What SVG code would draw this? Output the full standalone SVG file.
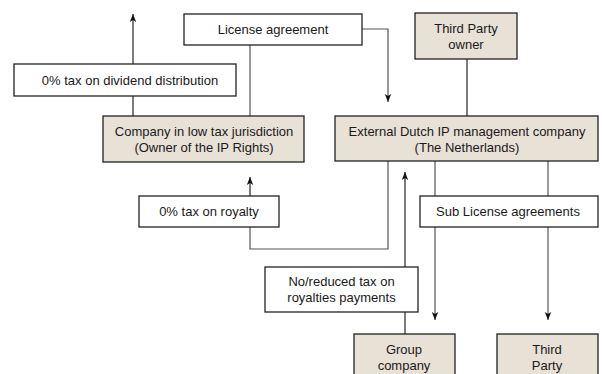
<svg xmlns="http://www.w3.org/2000/svg" width="602" height="374" viewBox="0 0 602 374">
<style>
.box{fill:#ffffff;stroke:#222;stroke-width:1.3}
.sh{fill:#e8e1d6;stroke:#222;stroke-width:1.3}
text{font-family:"Liberation Sans",Arial,sans-serif;font-size:13px;fill:#1a1a1a;text-anchor:middle}
.ln{fill:none;stroke:#111;stroke-width:1.1}
.lg{fill:none;stroke:#555;stroke-width:1.2}
</style>
<defs>
<marker id="ah" viewBox="0 0 10 10" refX="10" refY="5" markerWidth="8" markerHeight="8" orient="auto" markerUnits="userSpaceOnUse">
<path d="M0,1 L10,5 L0,9 L2.5,5 Z" fill="#111"/>
</marker>
</defs>
<rect width="602" height="374" fill="#ffffff"/>
<g id="connectors">
<path class="ln" d="M133,64 V14" marker-end="url(#ah)"/>
<path class="ln" d="M133,96 V116"/>
<path class="lg" d="M250,45 V116"/>
<path class="lg" d="M362,29 H388 V102" marker-end="url(#ah)"/>
<path class="ln" d="M467,59 V116"/>
<path class="ln" d="M250,196 V177" marker-end="url(#ah)"/>
<path class="lg" d="M250,227 V249 H388 V161"/>
<path class="ln" d="M405,267 V172" marker-end="url(#ah)"/>
<path class="ln" d="M405,312 V334"/>
<path class="lg" d="M435,161 V196"/>
<path class="lg" d="M548,161 V196"/>
<path class="lg" d="M435,227 V320" marker-end="url(#ah)"/>
<path class="lg" d="M548,227 V320" marker-end="url(#ah)"/>
</g>
<g id="license">
<rect class="box" x="184" y="14" width="178" height="31"/>
<text x="273" y="34">License agreement</text>
</g>
<g id="thirdPartyOwner">
<rect class="sh" x="415" y="13" width="102" height="46"/>
<text x="466" y="33">Third Party</text>
<text x="466" y="49">owner</text>
</g>
<g id="dividend">
<rect class="box" x="14" y="64" width="222" height="32"/>
<text x="130" y="85">0% tax on dividend distribution</text>
</g>
<g id="lowTax">
<rect class="sh" x="103" y="116" width="201" height="46"/>
<text x="204" y="136">Company in low tax jurisdiction</text>
<text x="204" y="152">(Owner of the IP Rights)</text>
</g>
<g id="dutch">
<rect class="sh" x="335" y="116" width="263" height="45"/>
<text x="467" y="136">External Dutch IP management company</text>
<text x="467" y="152">(The Netherlands)</text>
</g>
<g id="royalty">
<rect class="box" x="139" y="196" width="140" height="31"/>
<text x="209" y="216">0% tax on royalty</text>
</g>
<g id="subLicense">
<rect class="box" x="420" y="196" width="178" height="31"/>
<text x="508" y="216">Sub License agreements</text>
</g>
<g id="reduced">
<rect class="box" x="265" y="267" width="153" height="45"/>
<text x="341.5" y="286">No/reduced tax on</text>
<text x="341.5" y="302">royalties payments</text>
</g>
<g id="group">
<rect class="sh" x="354" y="334" width="101" height="46"/>
<text x="404" y="354">Group</text>
<text x="404" y="370">company</text>
</g>
<g id="thirdParty">
<rect class="sh" x="497" y="334" width="101" height="46"/>
<text x="547" y="354">Third</text>
<text x="547" y="370">Party</text>
</g>
</svg>
